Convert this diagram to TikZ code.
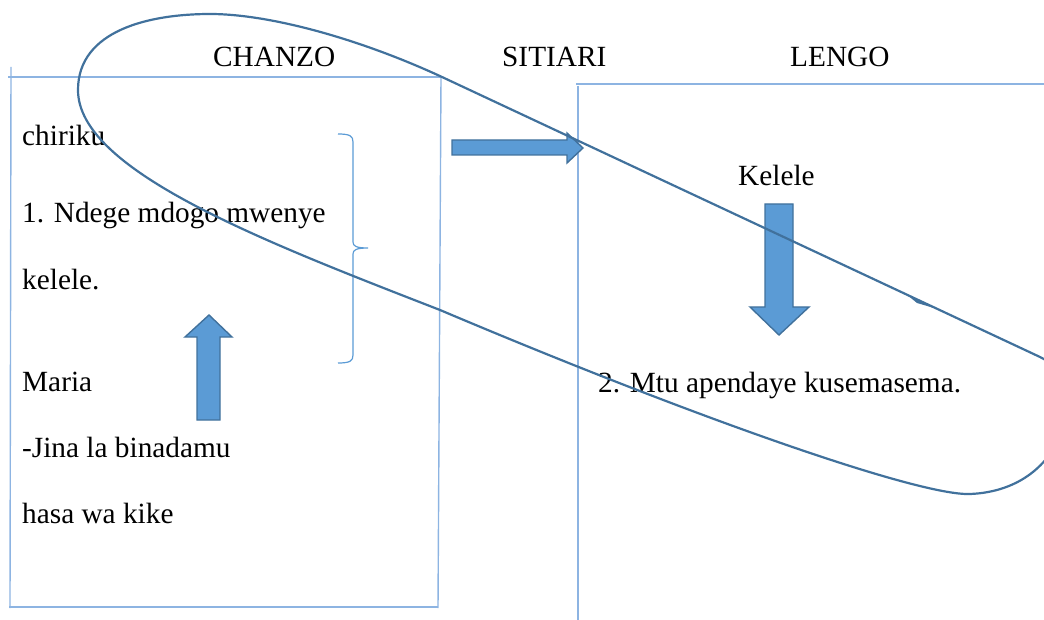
\documentclass[tikz,border=0pt]{standalone}
\usepackage{fontspec}
\setmainfont{Liberation Serif}
\definecolor{boxblue}{RGB}{141,180,226}
\definecolor{loopblue}{RGB}{65,113,156}
\definecolor{arrowfill}{RGB}{91,155,213}
\begin{document}
\begin{tikzpicture}[x=1pt,y=-1pt,
  boxline/.style={draw=boxblue, line width=1.4pt},
  bracel/.style={draw=arrowfill, line width=1.2pt},
  loopline/.style={draw=loopblue, line width=2.2pt},
  blockarrow/.style={fill=arrowfill, draw=loopblue, line width=1.4pt, line join=miter},
  lbl/.style={anchor=base west, inner sep=0pt, font=\fontsize{29.3}{34}\selectfont}]
\useasboundingbox (0,0) rectangle (1044,620);
\clip (0,0) rectangle (1044,620);
% left box
\draw[boxline] (8,77) -- (443,77);
\draw[boxline] (11,67) -- (10,608);
\draw[boxline] (9,607) -- (438,607);
\draw[boxline] (441,77) -- (438,608);
% right box
\draw[boxline] (576,84) -- (1044,84);
\draw[boxline] (578,86) -- (578,620);
% headings
\node[lbl] (chanzo) at (213,67) {CHANZO};
\node[lbl] (sitiari) at (502,67) {SITIARI};
\node[lbl] (lengo) at (790,67) {LENGO};
% left texts
\node[lbl] (chiriku) at (22,146) {chiriku};
\node[lbl] (ndege) at (22,223) {1. Ndege mdogo mwenye};
\node[lbl] (kelele1) at (22,290) {kelele.};
\node[lbl] (maria) at (22,391) {Maria};
\node[lbl] (jina) at (22,457) {-Jina la binadamu};
\node[lbl] (hasa) at (22,523) {hasa wa kike};
% right texts
\node[lbl] (kelele2) at (738,186) {Kelele};
\node[lbl] (mtu) at (598,392) {2. Mtu apendaye kusemasema.};
% brace
\draw[bracel] (338,134) .. controls (350,134) and (353,136) .. (353,142) -- (353,242)
  .. controls (353,246) and (356,248) .. (368,248)
  .. controls (356,248) and (353,250) .. (353,254) -- (353,355)
  .. controls (353,361) and (350,363) .. (338,363);
% block arrows
\draw[blockarrow] (452,140) -- (567,140) -- (567,133) -- (583,148) -- (567,163) -- (567,155) -- (452,155) -- cycle;
\draw[blockarrow] (765,204) -- (793,204) -- (793,307) -- (809,307) -- (779,335) -- (750,307) -- (765,307) -- cycle;
\draw[blockarrow] (197,420) -- (197,337) -- (185,337) -- (209,315) -- (232,337) -- (220,337) -- (220,420) -- cycle;
% loop
\draw[loopline] (442,77) -- (1040,357)
  .. controls (1090,380) and (1070,490) .. (970,494)
  .. controls (920,496) and (700,420) .. (440,310)
  .. controls (260,240) and (78,170) .. (78,90)
  .. controls (78,30) and (150,14) .. (210,14)
  .. controls (270,14) and (360,39) .. cycle;
\fill[loopblue] (906,294) -- (934,308) -- (917,303) -- cycle;
\end{tikzpicture}
\end{document}
